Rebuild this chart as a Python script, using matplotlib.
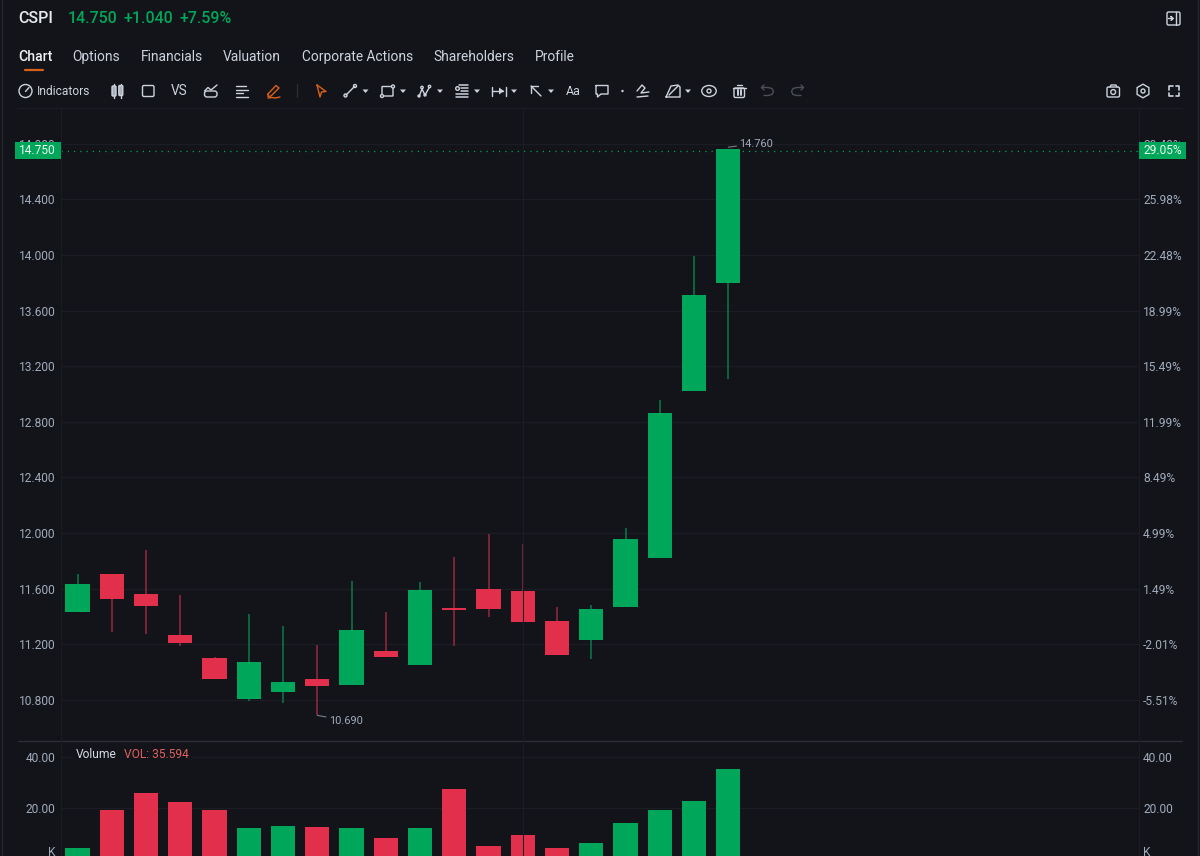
import matplotlib
matplotlib.use('Agg')
import matplotlib.pyplot as plt
import matplotlib.patches as mpatches

# Colores
BG = '#121419'
GRID = '#1a1d23'
SEP = '#2c2f38'
GREEN = '#00a65a'
GREEN_WICK = '#0b7a48'
RED = '#e22f4c'
RED_WICK = '#98283f'
TICK = '#a0abbc'
TEXT = '#ccd3dd'
ORANGE = '#d9601a'
DIM = '#4a4e57'

plt.rcParams['font.family'] = ['Roboto', 'DejaVu Sans']
plt.rcParams['axes.unicode_minus'] = False

# Datos
opens = [11.43, 11.707, 11.563, 11.27, 11.102, 10.807, 10.858, 10.953, 10.908, 11.155,
         11.05, 11.46, 11.601, 11.583, 11.371, 11.23, 11.467, 11.821, 13.022, 13.798]
closes = [11.634, 11.527, 11.479, 11.208, 10.949, 11.071, 10.932, 10.899, 11.30, 11.107,
          11.594, 11.45, 11.457, 11.359, 11.126, 11.453, 11.96, 12.864, 13.712, 14.76]
highs = [11.706, 11.707, 11.875, 11.554, 11.11, 11.421, 11.333, 11.196, 11.654, 11.434,
         11.652, 11.827, 11.99, 11.923, 11.472, 11.482, 12.037, 12.957, 13.992, 14.76]
lows = [11.43, 11.287, 11.277, 11.189, 10.949, 10.795, 10.781, 10.69, 10.908, 11.107,
        11.05, 11.189, 11.398, 11.359, 11.126, 11.097, 11.467, 11.821, 13.022, 13.108]
volumes = [4.4, 19.3, 26.1, 22.6, 19.2, 12.4, 13.2, 12.7, 12.4, 8.2,
           12.4, 27.7, 5.2, 9.6, 4.3, 6.5, 14.35, 19.3, 22.7, 35.594]
up_days = [True, False, False, False, False, True, True, False, True, False,
           True, False, False, False, False, True, True, True, True, True]

price_ticks = [10.8, 11.2, 11.6, 12.0, 12.4, 12.8, 13.2, 13.6, 14.0, 14.4, 14.8]
pct_labels = ['-5.51%', '-2.01%', '1.49%', '4.99%', '8.49%', '11.99%', '15.49%',
              '18.99%', '22.48%', '25.98%', '29.48%']
last_price = 14.75
vol_ticks = [3.3, 20, 40]
vol_labels = ['K', '20.00', '40.00']

W, H = 1200, 856
PX = 1 / 100 * 72  # puntos por pixel a dpi 100


def pos(x0, y0, x1, y1):
    return [x0 / W, 1 - y1 / H, (x1 - x0) / W, (y1 - y0) / H]


def setup_axis(ax):
    ax.set_facecolor('none')
    for s in ax.spines.values():
        s.set_visible(False)
    ax.set_xlim((61 - 77.5) / 34.25, (1139 - 77.5) / 34.25)
    ax.set_xticks([])


fig = plt.figure(figsize=(12, 8.56), dpi=100, facecolor=BG)

# Panel de precios
ax = fig.add_axes(pos(61, 108, 1139, 741))
setup_axis(ax)
price_lim = (10.8 - 41 / 139.08, 10.8 + 592 / 139.08)
ax.set_ylim(*price_lim)
ax.set_yticks(price_ticks, [f'{t:.3f}' for t in price_ticks])
ax.tick_params(axis='y', length=0, pad=4, labelsize=12 * PX, labelcolor=TICK)
ax.grid(axis='y', color=GRID, lw=0.9)
ax.set_axisbelow(True)

colors = [GREEN if u else RED for u in up_days]
wicks = [GREEN_WICK if u else RED_WICK for u in up_days]
xs = list(range(len(opens)))
ax.vlines(xs, lows, highs, colors=wicks, lw=1.1, zorder=2)
ax.bar(xs, [abs(c - o) for o, c in zip(opens, closes)], bottom=[min(o, c) for o, c in zip(opens, closes)],
       width=0.715, color=colors, zorder=3)
ax.axhline(last_price, color=GREEN, lw=0.9, ls=(0, (1, 4)), zorder=1)

ax.annotate('14.760', xy=(19, 14.775), xytext=(11 * PX, 3.5 * PX), textcoords='offset points',
            va='center', fontsize=11 * PX, color=TICK,
            arrowprops=dict(arrowstyle='-', color='#777d88', lw=0.8, shrinkA=0, shrinkB=0))
ax.annotate('10.690', xy=(7, 10.69), xytext=(11.5 * PX, -5.5 * PX), textcoords='offset points',
            va='center', fontsize=11 * PX, color=TICK,
            arrowprops=dict(arrowstyle='-', color='#777d88', lw=0.8, shrinkA=0, shrinkB=0))

ax_r = ax.twinx()
setup_axis(ax_r)
ax_r.set_ylim(*price_lim)
ax_r.set_yticks(price_ticks, pct_labels)
ax_r.tick_params(axis='y', length=0, pad=3, labelsize=12 * PX, labelcolor=TICK)

# Panel de volumen
vol = fig.add_axes(pos(61, 741, 1139, 856))
setup_axis(vol)
vol_lim = ((859.3 - 856) / 2.55, (859.3 - 741) / 2.55)
vol.set_ylim(*vol_lim)
vol.set_yticks(vol_ticks, vol_labels)
vol.tick_params(axis='y', length=0, pad=4, labelsize=12 * PX, labelcolor=TICK)
vol.hlines([20, 40], *vol.get_xlim(), color=GRID, lw=0.9, zorder=0)
vol.bar(xs, volumes, width=0.715, color=colors, zorder=3)

vol_r = vol.twinx()
setup_axis(vol_r)
vol_r.set_ylim(*vol_lim)
vol_r.set_yticks(vol_ticks, vol_labels)
vol_r.tick_params(axis='y', length=0, pad=3, labelsize=12 * PX, labelcolor=TICK)

# Capa de interfaz en pixeles
ui = fig.add_axes([0, 0, 1, 1], zorder=10)
ui.set_xlim(0, W)
ui.set_ylim(H, 0)
ui.axis('off')


def line(xx, yy, color=TEXT, lw=1.0, **kw):
    ui.plot(xx, yy, color=color, lw=lw, solid_capstyle='round', solid_joinstyle='round', **kw)


def text(x, y, s, size=12, color=TEXT, **kw):
    kw.setdefault('va', 'center')
    return ui.text(x, y, s, fontsize=size * PX, color=color, **kw)


def box(x0, y0, x1, y1, color=TEXT, fill='none', lw=1.0, z=2, round_=1.5):
    ui.add_patch(mpatches.FancyBboxPatch((x0, y0), x1 - x0, y1 - y0, boxstyle=f'round,pad=0,rounding_size={round_}',
                                         ec=color, fc=fill, lw=lw, zorder=z))


def circle(x, y, r, color=TEXT, fill='none', lw=1.0):
    ui.add_patch(mpatches.Circle((x, y), r, ec=color, fc=fill, lw=lw, zorder=3))


def caret(x, y=91):
    ui.add_patch(mpatches.Polygon([(x - 3, y - 1.5), (x + 3, y - 1.5), (x, y + 2)], fc=TEXT, ec='none'))


# Lineas de marco
line([17, 1182], [108, 108], color=GRID, lw=1)
line([17.7, 1182], [741, 741], color=SEP, lw=1)
line([61, 61], [108, 856], color=GRID, lw=0.7)
line([1139, 1139], [108, 856], color=GRID, lw=0.7)
line([523, 523], [108, 856], color=GRID, lw=0.8)
line([1.5, 1.5], [0, 856], color='#24272e', lw=1)
line([1197.7, 1197.7], [0, 856], color='#24272e', lw=1)

# Cabecera
text(18, 18.5, 'CSPI', size=16, color='#e6e9ee', fontweight='medium')
text(68, 18.5, '14.750', size=16, color=GREEN, fontweight='medium')
text(124, 18.5, '+1.040', size=16, color=GREEN, fontweight='medium')
text(180, 18.5, '+7.59%', size=16, color=GREEN, fontweight='medium')
box(1167, 12, 1180, 25, lw=1)
line([1175.5, 1175.5], [12, 25], lw=1)
line([1168.5, 1173, 1171, 1173, 1171], [18.5, 18.5, 16.5, 18.5, 20.5], lw=1)

# Pestanas
tabs = ['Options', 'Financials', 'Valuation', 'Corporate Actions', 'Shareholders', 'Profile']
tab_x = [72, 141, 223, 302, 433, 535]
text(18, 57, 'Chart', size=14, color='#eef0f3', fontweight='medium')
line([25, 43], [70.3, 70.3], color=ORANGE, lw=1.6)
for x, s in zip(tab_x, tabs):
    text(x, 57, s, size=13.8, color=TEXT)

# Barra de herramientas
circle(25.5, 91, 6.5)
line([25.5, 29], [91.5, 87.5])
text(37, 91, 'Indicators', size=12)
for x, y0, y1 in [(114, 86, 96), (120.8, 85.5, 95.5)]:
    line([x, x], [y0 - 2, y1 + 2])
    box(x - 2, y0, x + 2, y1, fill='#aab0ba', round_=1)
box(142.5, 85.5, 154, 96.5, round_=1.5)
text(179, 91, 'VS', size=13.5, ha='center')
box(204.5, 91, 217, 97, round_=2.5)
line([204.5, 208, 211, 217], [91, 87.5, 90, 85])
for y, x1 in [(86, 246), (89.5, 248), (93, 243), (96.5, 248)]:
    line([235.5, x1], [y, y])
line([268, 276, 279, 271, 268, 268], [94, 85.5, 88, 96, 96.5, 94], color=ORANGE)
line([268, 272, 275, 280], [98, 97.5, 98, 97], color=ORANGE)
line([297, 297], [84, 97], color='#2a2d34', lw=1)
line([317, 326, 321.5, 320, 317], [85, 91.5, 92, 97, 85], color=ORANGE)

line([346, 354.5], [95, 86.5])
circle(345.5, 95.5, 1.5)
circle(355, 86, 1.5)
caret(365.5)
box(382, 86.5, 393, 96, round_=0.5)
circle(382, 96, 1.5, fill=BG)
circle(393, 86.5, 1.5, fill=BG)
caret(403)
line([419, 422, 425, 429], [96.5, 89, 95, 88])
circle(429.5, 86.5, 1.2)
circle(422, 87.5, 1.2)
circle(425, 95, 1.0)
circle(419, 96, 1.0)
caret(440)
for y, x0 in [(85, 459), (88, 461), (91, 461), (94, 456), (97, 456)]:
    line([x0, 468], [y, y], lw=1.1)
circle(457.5, 88.5, 1.8)
caret(477)
line([492, 492], [86.5, 95.5])
line([505.5, 505.5], [86.5, 95.5])
line([492, 503], [91, 91])
ui.add_patch(mpatches.Polygon([(499, 87.5), (504, 91), (499, 94.5)], fc=TEXT, ec='none'))
caret(514)
line([531, 541], [86, 96])
line([531, 531, 538], [92.5, 86, 86])
caret(551)
text(573, 91.5, 'Aa', size=12.5, ha='center')
line([596, 608, 608, 601, 597.5, 597.5, 596, 596], [85.5, 85.5, 94, 94, 97, 94, 94, 85.5])
circle(622.5, 91, 0.5, fill=TEXT)
line([637, 642, 645, 641, 649], [91, 85, 88, 93, 92])
line([637, 648], [97, 96])
line([666, 671, 678, 680, 680, 666], [97, 86, 85, 87, 97, 97])
line([669, 678], [95, 86])
caret(688)
ui.add_patch(mpatches.Ellipse((709, 91), 14.5, 11, ec=TEXT, fc='none', lw=1))
circle(709, 91, 2)
box(734, 88, 744.5, 97.5, round_=1.5)
line([732.5, 745.5], [87.5, 87.5])
line([736.5, 742], [85, 85])
line([737.5, 737.5], [90, 95], lw=1.4)
line([741, 741], [90, 95], lw=1.4)
line([761.5, 768, 772, 773.5, 772, 768, 764], [87.5, 87.5, 88.5, 91.5, 94.5, 95.5, 95.5], color=DIM)
line([764, 761.5, 764], [85, 87.5, 90], color=DIM)
line([803.5, 797, 793, 791.5, 793, 797, 801], [87.5, 87.5, 88.5, 91.5, 94.5, 95.5, 95.5], color=DIM)
line([801, 803.5, 801], [85, 87.5, 90], color=DIM)
box(1107, 87, 1119.5, 97, round_=1.5)
line([1110, 1111, 1116, 1117], [87, 85, 85, 87])
circle(1113.2, 92, 2.4)
ui.add_patch(mpatches.RegularPolygon((1143, 91), 6, radius=6.8, ec=TEXT, fc='none', lw=1))
circle(1143, 91, 2)
for cx, cy, sx, sy in [(1169, 86, 1, 1), (1179, 86, -1, 1), (1169, 96, 1, -1), (1179, 96, -1, -1)]:
    line([cx, cx, cx + 3.5 * sx], [cy + 3.5 * sy, cy, cy], lw=1.2)

# Etiquetas del ultimo precio
ui.add_patch(mpatches.Rectangle((14.5, 141.7), 46, 17.3, fc=GREEN, ec='none', zorder=4))
text(19, 150.5, '14.750', size=12, color='#eef7f1', zorder=5)
ui.add_patch(mpatches.Rectangle((1138.5, 141.7), 47.8, 17.3, fc=GREEN, ec='none', zorder=4))
text(1143.5, 150.5, '29.05%', size=12, color='#eef7f1', zorder=5)

# Titulo del volumen
text(76, 754, 'Volume', size=12, color='#d5dbe4',
     bbox=dict(fc=BG, ec='none', pad=2.5))
text(124, 754, 'VOL: 35.594', size=12, color='#e0605f',
     bbox=dict(fc=BG, ec='none', pad=2.5))

fig.savefig('out.png', dpi=100, facecolor=BG)
